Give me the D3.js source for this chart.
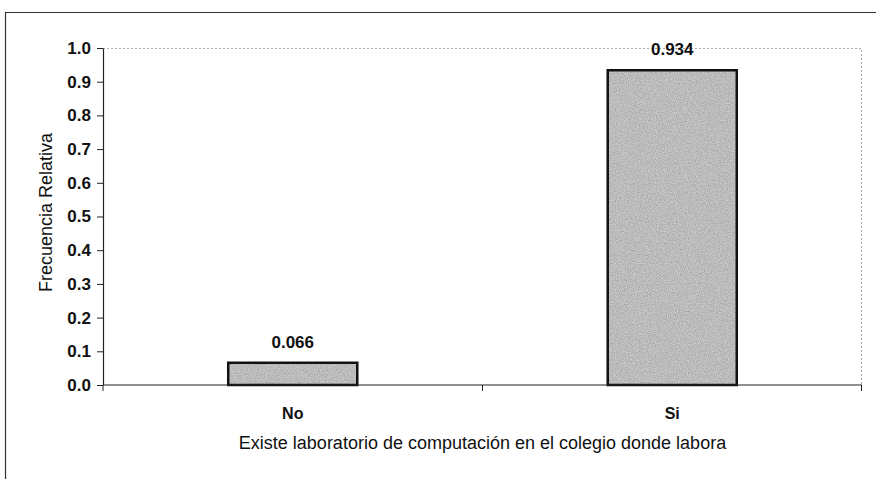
<!DOCTYPE html>
<html>
<head>
<meta charset="utf-8">
<script src="https://cdn.jsdelivr.net/npm/d3@7"></script>
<style>
  body { margin: 0; background: #fff; }
  svg { font-family: "Liberation Sans", Arial, sans-serif; }
</style>
</head>
<body>
<div id="chart"></div>
<script>
// Data
var categories = ["No", "Si"];
var values = [0.066, 0.934];
var valueLabels = ["0.066", "0.934"];
var yTicks = [0, 0.1, 0.2, 0.3, 0.4, 0.5, 0.6, 0.7, 0.8, 0.9, 1.0];
var yTitle = "Frecuencia Relativa";
var xTitle = "Existe laboratorio de computación en el colegio donde labora";

var W = 876, H = 479;
const margin = { top: 48, right: 14, bottom: 94, left: 103 };
var width = W - margin.left - margin.right;
var height = H - margin.top - margin.bottom;

var root = d3.select("#chart").append("svg")
    .attr("width", W)
    .attr("height", H);

// Grainy fill like the printed stipple
var defs = root.append("defs");
var f = defs.append("filter").attr("id", "grain")
    .attr("x", 0).attr("y", 0).attr("width", 1).attr("height", 1);
f.append("feTurbulence").attr("type", "fractalNoise")
    .attr("baseFrequency", 0.9).attr("numOctaves", 2).attr("seed", 3).attr("result", "noise");
f.append("feColorMatrix").attr("in", "noise").attr("type", "matrix")
    .attr("values", "0 0 0 0 0  0 0 0 0 0  0 0 0 0 0  0 0 0 0.6 0").attr("result", "dots");
f.append("feComposite").attr("in", "dots").attr("in2", "SourceGraphic").attr("operator", "in").attr("result", "dm");
f.append("feMerge").selectAll("feMergeNode").data(["SourceGraphic", "dm"]).enter()
    .append("feMergeNode").attr("in", d => d);

// outer frame (chart area border)
root.append("path")
    .attr("d", `M5.5,${H} L5.5,12.5 L${W},12.5`)
    .attr("fill", "none")
    .attr("stroke", "#333")
    .attr("stroke-width", 1.2);

var svg = root.append("g")
    .attr("transform", `translate(${margin.left},${margin.top})`);

var x = d3.scaleBand().domain(categories).range([0, width]).paddingInner(0.66).paddingOuter(0.33);
var y = d3.scaleLinear().domain([0, 1]).range([height, 0]);

// plot area dotted border (top and right)
svg.append("path")
    .attr("d", `M0,0.5 L${width - 0.5},0.5 L${width - 0.5},${height}`)
    .attr("fill", "none")
    .attr("stroke", "#aaa")
    .attr("stroke-width", 1)
    .attr("stroke-dasharray", "2,2");

// bars
svg.selectAll(".bar")
    .data(values)
    .enter().append("rect")
    .attr("class", "bar")
    .attr("x", (d, i) => x(categories[i]))
    .attr("y", d => y(d))
    .attr("width", x.bandwidth())
    .attr("height", d => height - y(d))
    .attr("fill", "#dcdcdc")
    .attr("filter", "url(#grain)");

svg.selectAll(".barline")
    .data(values)
    .enter().append("rect")
    .attr("class", "barline")
    .attr("x", (d, i) => x(categories[i]))
    .attr("y", d => y(d))
    .attr("width", x.bandwidth())
    .attr("height", d => height - y(d))
    .attr("fill", "none")
    .attr("stroke", "#111")
    .attr("stroke-width", 2.5);

// value labels
svg.selectAll(".vlabel")
    .data(values)
    .enter().append("text")
    .attr("class", "vlabel")
    .attr("x", (d, i) => x(categories[i]) + x.bandwidth() / 2)
    .attr("y", d => y(d) - 15)
    .attr("text-anchor", "middle")
    .attr("font-size", 17)
    .attr("font-weight", "bold")
    .attr("fill", "#111")
    .text((d, i) => valueLabels[i]);

// y axis
var yAxis = svg.append("g")
    .call(d3.axisLeft(y).tickValues(yTicks).tickFormat(d3.format(".1f")).tickSize(6).tickSizeOuter(0));
yAxis.select(".domain").attr("stroke", "#222").attr("stroke-width", 1.2);
yAxis.selectAll(".tick line").attr("stroke", "#222");
yAxis.selectAll(".tick text")
    .attr("x", -12)
    .attr("font-size", 17)
    .attr("font-weight", "bold")
    .attr("fill", "#111")
    .attr("font-family", "Liberation Sans, Arial, sans-serif");

// x axis with ticks at category boundaries
var xg = svg.append("g").attr("transform", `translate(0,${height})`);
xg.append("line")
    .attr("x1", 0).attr("x2", width)
    .attr("stroke", "#222").attr("stroke-width", 1.2);
var step = x.step();
xg.selectAll(".xtick")
    .data(d3.range(categories.length + 1))
    .enter().append("line")
    .attr("class", "xtick")
    .attr("x1", i => i === 0 ? 0 : Math.min(width - 0.5, x(categories[0]) - x.paddingOuter() * step + i * step))
    .attr("x2", i => i === 0 ? 0 : Math.min(width - 0.5, x(categories[0]) - x.paddingOuter() * step + i * step))
    .attr("y1", 0).attr("y2", 6)
    .attr("stroke", "#222");
xg.selectAll(".xlabel")
    .data(categories)
    .enter().append("text")
    .attr("class", "xlabel")
    .attr("x", d => x(d) + x.bandwidth() / 2)
    .attr("y", 34)
    .attr("text-anchor", "middle")
    .attr("font-size", 16)
    .attr("font-weight", "bold")
    .attr("fill", "#111")
    .text(d => d);

// axis titles
svg.append("text")
    .attr("x", width / 2)
    .attr("y", height + 64)
    .attr("text-anchor", "middle")
    .attr("font-size", 18)
    .attr("fill", "#111")
    .text(xTitle);

svg.append("text")
    .attr("transform", `translate(${-51},${height / 2 - 4}) rotate(-90)`)
    .attr("text-anchor", "middle")
    .attr("font-size", 18)
    .attr("fill", "#111")
    .text(yTitle);
</script>
</body>
</html>
